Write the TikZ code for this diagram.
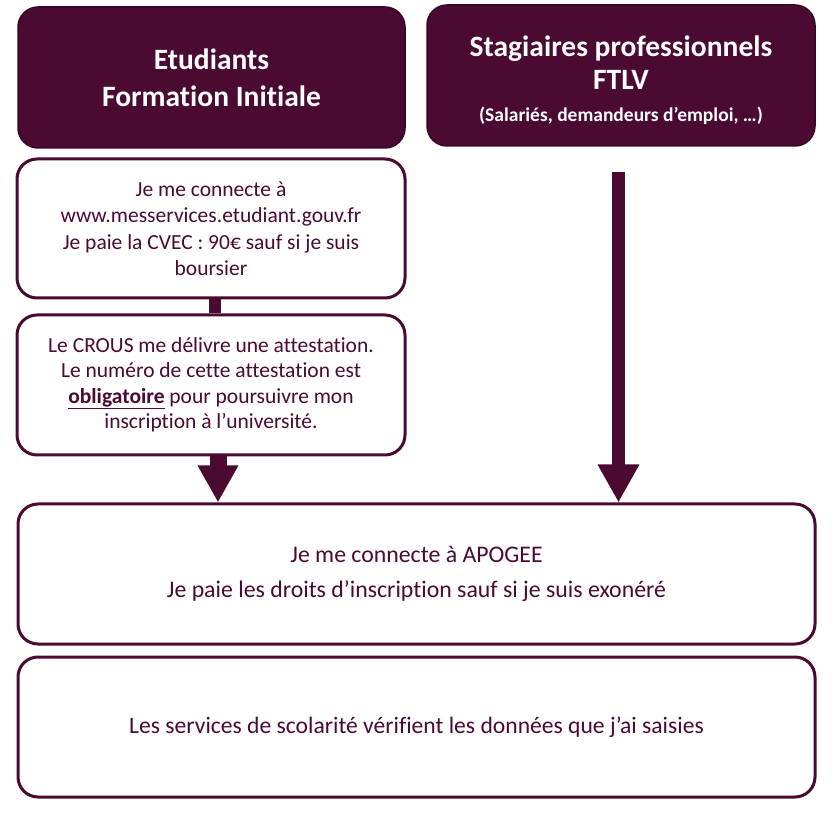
\documentclass[tikz,border=0pt]{standalone}
\usepackage{fontspec}
\setmainfont{Carlito}[Ligatures=NoCommon]
\usetikzlibrary{arrows.meta,calc}
\definecolor{plum}{RGB}{74,10,50}
\definecolor{plumedge}{RGB}{58,6,38}
\begin{document}
\begin{tikzpicture}[x=1pt,y=-1pt,
  headbox/.style={rounded corners=20pt, fill=plum, draw=plumedge, line width=1.5pt,
    text=white, align=center, inner sep=0pt},
  headtext/.style={text=white, align=center, inner sep=0pt},
  stepbox/.style={rounded corners=20pt, draw=plum, line width=3pt, fill=white,
    text=plum, align=center, inner sep=0pt},
  bigarrow/.style={draw=plum, line width=#1},
]
\useasboundingbox (0,0) rectangle (839,826);

\node[headbox, minimum width=387pt, minimum height=141pt,
  font=\fontsize{29.5}{37}\selectfont\bfseries] (A) at (211.5,77.5)
  {Etudiants\\Formation Initiale};

\node[headbox, minimum width=388pt, minimum height=141pt] (B) at (621,75.5) {};
\node[headtext, font=\fontsize{29.5}{33}\selectfont\bfseries] (Bt) at ($(B.center)+(0,5)$)
  {Stagiaires professionnels\\FTLV\\[-1pt]{\fontsize{19.5}{22}\selectfont (Salariés, demandeurs d’emploi, …)}};

\node[stepbox, minimum width=388pt, minimum height=139pt,
  font=\fontsize{21.5}{26.5}\selectfont] (C) at (211,228.5)
  {Je me connecte à\\www.messervices.etudiant.gouv.fr\\Je paie la CVEC : 90€ sauf si je suis\\boursier};

\node[stepbox, minimum width=388pt, minimum height=140pt,
  font=\fontsize{21.5}{25.5}\selectfont] (D) at (211,385)
  {Le CROUS me délivre une attestation.\\Le numéro de cette attestation est\\\underline{\textbf{obligatoire}} pour poursuivre mon\\inscription à l’université.};

\node[stepbox, minimum width=797pt, minimum height=140pt,
  font=\fontsize{23.8}{35}\selectfont] (E) at (416.5,574)
  {Je me connecte à APOGEE\\Je paie les droits d’inscription sauf si je suis exonéré};

\node[stepbox, minimum width=797pt, minimum height=140pt,
  font=\fontsize{23.6}{35}\selectfont] (F) at (416.5,727)
  {Les services de scolarité vérifient les données que j’ai saisies};

% connector C -> D
\coordinate (cs) at ($(C.south)+(4,0)$);
\draw[bigarrow=12pt] (cs) -- (cs |- D.north);
% left arrow D -> E
\coordinate (ls) at ($(D.south)+(7,0)$);
\draw[bigarrow=17pt, -{Triangle[width=38pt,length=37pt]}] (ls) -- (ls |- E.north);
% right arrow from FTLV
\coordinate (rs) at (618.5,172);
\draw[bigarrow=13pt, -{Triangle[width=39pt,length=38pt]}] (rs) -- (rs |- E.north);
\end{tikzpicture}
\end{document}
